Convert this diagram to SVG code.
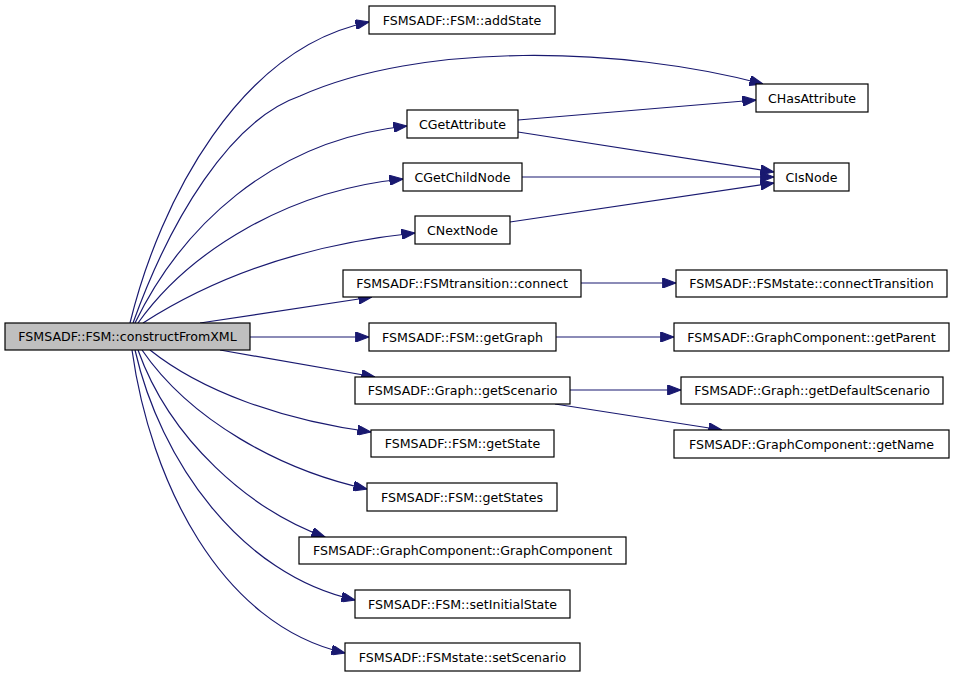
<svg xmlns="http://www.w3.org/2000/svg" width="955" height="677" viewBox="0 0 955 677">
<defs>
<style>
.n rect{fill:#fff;stroke:#000;stroke-width:1.2}
.n text{font-family:"DejaVu Sans",sans-serif;font-size:12.6px;text-anchor:middle;fill:#000}
.e path{fill:none;stroke:#191970;stroke-width:1.2;marker-end:url(#a)}
</style>
<marker id="a" markerUnits="userSpaceOnUse" markerWidth="14" markerHeight="10" refX="12" refY="4.5" orient="auto" viewBox="0 0 12 9">
<path d="M0,0 L12,4.5 L0,9 Z" fill="#191970" stroke="#191970" stroke-width="1"/>
</marker>
</defs>
<rect width="955" height="677" fill="#fff"/>
<g id="edges" class="e">
<path d="M130,323 C160,200 240,48 369,22"/>
<path d="M133,323 C170,220 230,120 300,96 C420,42 620,46 763,84"/>
<path d="M135,323 C180,230 270,140 407,126"/>
<path d="M138,323 C190,250 290,190 403,179"/>
<path d="M143,323 C210,280 300,245 415,233"/>
<path d="M200,323 L372,297"/>
<path d="M250,337 L369,337"/>
<path d="M220,350 L375,377"/>
<path d="M150,350 C200,390 280,420 371,432"/>
<path d="M142,350 C190,420 280,470 367,489"/>
<path d="M138,350 C170,440 250,510 325,537"/>
<path d="M135,350 C160,460 240,575 355,600"/>
<path d="M132,350 C150,480 220,625 345,653"/>
<path d="M518,120 L756,100"/>
<path d="M518,132 L774,172"/>
<path d="M522,177 L774,177"/>
<path d="M510,222 L774,183"/>
<path d="M581,283 L676,283"/>
<path d="M556,337 L674,337"/>
<path d="M570,390 L681,390"/>
<path d="M555,404 L722,430"/>
</g>
<g id="constructFromXML" class="n"><rect x="5" y="323" width="245" height="27" style="fill:#bfbfbf"/><text x="127.5" y="341">FSMSADF::FSM::constructFromXML</text></g>
<g id="addState" class="n"><rect x="369" y="6" width="186" height="28"/><text x="462" y="24.5">FSMSADF::FSM::addState</text></g>
<g id="CHasAttribute" class="n"><rect x="756" y="84" width="112" height="28"/><text x="812" y="102.5">CHasAttribute</text></g>
<g id="CGetAttribute" class="n"><rect x="407" y="110" width="111" height="28"/><text x="462.5" y="128.5">CGetAttribute</text></g>
<g id="CGetChildNode" class="n"><rect x="403" y="163" width="119" height="28"/><text x="462.5" y="181.5">CGetChildNode</text></g>
<g id="CIsNode" class="n"><rect x="774" y="163" width="75" height="28"/><text x="811.5" y="181.5">CIsNode</text></g>
<g id="CNextNode" class="n"><rect x="415" y="216" width="95" height="28"/><text x="462.5" y="234.5">CNextNode</text></g>
<g id="connect" class="n"><rect x="343" y="270" width="238" height="27"/><text x="462" y="288">FSMSADF::FSMtransition::connect</text></g>
<g id="connectTransition" class="n"><rect x="676" y="270" width="271" height="27"/><text x="811.5" y="288">FSMSADF::FSMstate::connectTransition</text></g>
<g id="getGraph" class="n"><rect x="369" y="323" width="187" height="28"/><text x="462.5" y="341.5">FSMSADF::FSM::getGraph</text></g>
<g id="getParent" class="n"><rect x="674" y="323" width="275" height="28"/><text x="811.5" y="341.5">FSMSADF::GraphComponent::getParent</text></g>
<g id="getScenario" class="n"><rect x="355" y="377" width="215" height="27"/><text x="462.5" y="395">FSMSADF::Graph::getScenario</text></g>
<g id="getDefaultScenario" class="n"><rect x="681" y="377" width="262" height="27"/><text x="812" y="395">FSMSADF::Graph::getDefaultScenario</text></g>
<g id="getName" class="n"><rect x="674" y="430" width="275" height="28"/><text x="811.5" y="448.5">FSMSADF::GraphComponent::getName</text></g>
<g id="getState" class="n"><rect x="371" y="430" width="183" height="27"/><text x="462.5" y="448">FSMSADF::FSM::getState</text></g>
<g id="getStates" class="n"><rect x="367" y="483" width="190" height="28"/><text x="462" y="501.5">FSMSADF::FSM::getStates</text></g>
<g id="GraphComponent" class="n"><rect x="299" y="537" width="327" height="27"/><text x="462.5" y="555">FSMSADF::GraphComponent::GraphComponent</text></g>
<g id="setInitialState" class="n"><rect x="355" y="590" width="215" height="28"/><text x="462.5" y="608.5">FSMSADF::FSM::setInitialState</text></g>
<g id="setScenario" class="n"><rect x="345" y="643" width="235" height="28"/><text x="462.5" y="661.5">FSMSADF::FSMstate::setScenario</text></g>
</svg>
